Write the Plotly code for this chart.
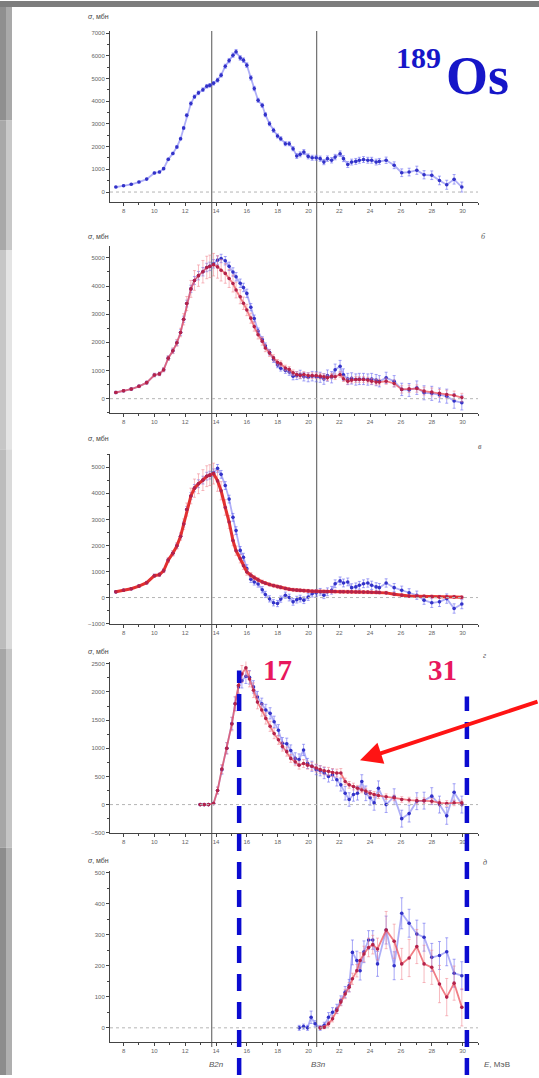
import plotly.graph_objects as go

W, H = 539, 1078


def fx(px):
    return px / W


def fy(py):
    return 1 - py / H


# ---------------- data ----------------
E1 = [7.5, 8.0, 8.5, 9.0, 9.5, 10.0, 10.33, 10.6, 10.9, 11.2, 11.46, 11.7, 11.9, 12.1,
      12.37, 12.6, 12.86, 13.15, 13.4, 13.6, 13.84, 14.1, 14.33, 14.6, 14.85, 15.1, 15.3,
      15.57, 15.78, 16.0, 16.26, 16.48, 16.73, 17.0, 17.2, 17.47, 17.73, 17.99, 18.2, 18.5,
      18.75, 19.0, 19.24, 19.46, 19.7, 19.98, 20.24, 20.5, 20.76, 21.0, 21.23, 21.5, 21.73,
      22.05, 22.27, 22.55, 22.8, 23.07, 23.3, 23.57, 23.85, 24.1, 24.39, 24.6, 25.04, 25.56,
      26.05, 26.53, 27.03, 27.5, 28.0, 28.5, 28.97, 29.45, 29.95]

# panel a: total photoneutron cross section (blue)
S1 = [220, 280, 340, 440, 570, 840, 880, 1030, 1440, 1700, 1985, 2350, 2820, 3380,
      3900, 4200, 4370, 4510, 4660, 4700, 4790, 4930, 5150, 5540, 5790, 6030, 6180,
      5910, 5810, 5590, 5030, 4560, 4040, 3820, 3410, 3010, 2720, 2470, 2350, 2130,
      2130, 1910, 1590, 1660, 1760, 1570, 1510, 1510, 1470, 1320, 1470, 1400, 1540,
      1690, 1470, 1210, 1320, 1350, 1400, 1430, 1400, 1400, 1320, 1350, 1400, 1180,
      850, 880, 960, 760, 740, 510, 320, 560, 220]
ERR1 = [30, 30, 30, 35, 35, 40, 40, 45, 50, 55, 60, 60, 65, 70,
        75, 75, 80, 80, 80, 80, 80, 85, 85, 90, 95, 95, 100, 100, 100, 100, 95, 95,
        90, 90, 90, 90, 90, 90, 90, 90, 90, 90,
        110, 110, 110, 110, 110, 110, 115, 115, 120, 120, 120, 120, 130, 130, 130, 130,
        130, 130, 130, 130, 130, 130, 140, 150,
        170, 170, 180, 180, 190, 190, 200, 210, 220]

# panel b
S2_RED = [220, 280, 340, 440, 570, 840, 880, 1030, 1440, 1700, 1985, 2350, 2820, 3380,
          3900, 4200, 4370, 4510, 4660, 4700, 4760,
          4680, 4560, 4450, 4270, 4090, 3860, 3620, 3390, 3150,
          2860, 2560, 2270, 2040, 1800, 1620, 1450, 1290, 1240, 1090,
          1040, 920, 860, 820, 860, 820, 820, 820, 800, 780,
          740, 800, 780, 860, 710, 620, 660, 680, 680, 680,
          660, 620, 590, 590, 620, 540, 330, 350, 360, 270,
          240, 190, 150, 120, 40]
ERR2_RED = [40, 40, 40, 45, 50, 60, 60, 70, 80, 100, 120, 150, 200, 250,
            300, 350, 380, 400, 400, 400, 400,
            400, 380, 350, 320, 300, 280, 250, 220, 200,
            180, 160, 150, 140, 130, 120, 110, 100, 100, 100,
            100, 100, 100, 100, 100, 100, 100, 100, 100, 100,
            100, 100, 100, 100, 100, 100, 100, 100, 100, 100,
            100, 100, 100, 100, 110, 120, 130, 130, 130, 140,
            140, 140, 150, 150, 150]
S2_BLUE = [220, 280, 340, 440, 570, 840, 880, 1030, 1440, 1700, 1985, 2350, 2820, 3380,
           3900, 4200, 4370, 4510, 4660, 4700, 4790,
           4920, 4980, 4900, 4700, 4500, 4330, 4100, 3950, 3740,
           3250, 2850, 2400, 2100, 1880, 1650, 1390, 1200, 1080, 1000,
           950, 800, 820, 860, 780, 760, 800, 780, 760, 700,
           820, 760, 1030, 1150, 850, 700, 720, 680, 700, 700,
           680, 700, 660, 620, 740, 620, 330, 310, 390, 210,
           190, 130, 90, -80, -140]
ERR2_BLUE = [40, 40, 40, 45, 50, 60, 60, 70, 80, 90, 100, 100, 110, 120,
             130, 140, 150, 150, 150, 150, 150,
             150, 150, 150, 150, 150, 150, 150, 150, 150,
             130, 120, 110, 100, 100, 100, 100, 100, 100, 100,
             120, 130, 140, 150, 150, 160, 170, 180, 180, 190,
             200, 200, 200, 210, 210, 200, 200, 200, 200, 200,
             200, 200, 200, 200, 200, 200, 220, 230, 240, 250,
             250, 250, 250, 260, 260]

# panel c
S3_RED = [220, 280, 340, 440, 570, 840, 880, 1030, 1440, 1700, 1985, 2350, 2820, 3380,
          3900, 4200, 4370, 4510, 4660, 4700, 4760,
          4480, 4100, 3460, 2900, 2190, 1800, 1490, 1220, 980,
          860, 760, 680, 600, 550, 500, 460, 420, 390, 350,
          320, 300, 285, 275, 265, 255, 245, 240, 235, 230,
          230, 230, 230, 225, 225, 220, 220, 215, 215, 210,
          210, 205, 200, 195, 180, 130, 90, 60, 50, 50,
          40, 25, 25, 25, 10]
ERR3_RED = [40, 40, 40, 45, 50, 60, 60, 70, 80, 100, 120, 150, 200, 250,
            300, 350, 380, 400, 400, 400, 400,
            400, 350, 300, 250, 200, 180, 160, 140, 120,
            100, 90, 80, 70, 60, 60, 60, 60, 60, 60,
            60, 60, 60, 60, 60, 60, 60, 60, 60, 60,
            60, 60, 60, 60, 60, 60, 60, 60, 60, 60,
            60, 60, 60, 60, 60, 60, 60, 60, 60, 60,
            60, 60, 60, 60, 60]
S3_BLUE = [220, 280, 340, 440, 570, 840, 880, 1030, 1440, 1700, 1985, 2350, 2820, 3380,
           3900, 4200, 4370, 4510, 4660, 4700, 4790,
           4960, 4730, 4300, 3780, 3080, 2570, 1810, 1550, 1110,
           700, 600, 520, 300, 120, -50, -200, -230, -60, 90,
           0, -165, -80, -40, -100, 20, 150, 180, 220, 90,
           220, 280, 530, 640, 560, 600, 380, 410, 470, 530,
           560, 470, 410, 380, 560, 380, 280, 180, 90, -100,
           -200, -165, -40, -420, -250]
ERR3_BLUE = [40, 40, 40, 45, 50, 60, 60, 70, 80, 90, 100, 100, 110, 120,
             130, 140, 150, 150, 150, 150, 150,
             150, 150, 150, 150, 150, 150, 150, 150, 150,
             120, 120, 120, 120, 120, 120, 120, 120, 120, 120,
             130, 130, 130, 130, 130, 130, 130, 130, 130, 130,
             150, 150, 150, 150, 150, 150, 150, 150, 150, 150,
             160, 160, 160, 160, 160, 160, 160, 160, 160, 160,
             180, 180, 180, 180, 180]

# panel d
E4 = [12.97, 13.23, 13.51, 13.84, 14.10, 14.38, 14.70, 15.03, 15.24, 15.46,
      15.68, 15.94, 16.17, 16.43, 16.69, 16.97, 17.23, 17.51, 17.77, 18.05,
      18.31, 18.59, 18.85, 19.14, 19.39, 19.68, 19.94, 20.22, 20.50, 20.76,
      21.02, 21.30, 21.56, 21.84, 22.10, 22.38, 22.64, 22.92, 23.18, 23.46,
      23.72, 24.00, 24.26, 24.54, 25.04, 25.56, 26.05, 26.53, 27.03, 27.50,
      28.00, 28.50, 28.97, 29.45, 29.95]
S4_RED = [0, 0, 0, 20, 250, 630, 1000, 1430, 1790, 2120,
          2320, 2430, 2230, 2030, 1820, 1680, 1530, 1390, 1260, 1150,
          1030, 940, 820, 760, 700, 730, 700, 680, 650, 620,
          600, 590, 570, 560, 560, 410, 350, 320, 290, 260,
          240, 200, 180, 160, 140, 120, 90, 80, 70, 70,
          60, 30, 20, 30, 30]
ERR4_RED = [5, 5, 5, 20, 60, 80, 100, 120, 130, 140,
            150, 150, 140, 130, 120, 110, 100, 90, 90, 80,
            80, 80, 70, 70, 70, 70, 70, 70, 70, 70,
            70, 70, 70, 70, 80, 60, 60, 60, 50, 50,
            50, 50, 50, 50, 50, 50, 50, 50, 50, 50,
            50, 50, 50, 50, 50]
S4_BLUE = [0, 0, 0, 20, 250, 620, 1000, 1440, 1790, 2090,
           2200, 2280, 2260, 2090, 1910, 1790, 1680, 1620, 1470, 1320,
           1090, 1080, 960, 820, 800, 970, 730, 680, 620, 600,
           560, 500, 530, 440, 350, 200, 90, 180, 200, 410,
           200, 120, 30, 290, 0, 140, -250, -160, 60, 70,
           150, 0, -200, 220, 0]
ERR4_BLUE = [10, 10, 10, 20, 60, 80, 100, 110, 120, 130,
             130, 130, 120, 110, 100, 100, 100, 100, 100, 100,
             100, 100, 100, 100, 100, 100, 90, 90, 90, 90,
             100, 100, 100, 110, 110, 120, 120, 120, 120, 120,
             130, 130, 130, 130, 140, 140, 150, 150, 150, 150,
             150, 150, 150, 150, 150]

# panel e
E5_BLUE = [19.40, 19.68, 19.94, 20.17, 20.43, 20.76, 21.02, 21.30, 21.56, 21.84,
           22.10, 22.38, 22.64, 22.85, 23.14, 23.35, 23.60, 23.90, 24.17, 24.48,
           25.04, 25.56, 26.05, 26.53, 27.03, 27.50, 28.00, 28.50, 28.97, 29.45, 29.95]
S5_BLUE = [0, 4, 0, 34, 13, 0, 8, 34, 50, 61,
           88, 115, 136, 243, 217, 184, 245, 283, 283, 206,
           315, 200, 369, 337, 302, 292, 227, 233, 245, 176, 168]
ERR5_BLUE = [8, 8, 8, 20, 10, 8, 10, 15, 15, 15,
             15, 18, 20, 40, 30, 30, 35, 30, 30, 40,
             45, 45, 50, 45, 45, 45, 45, 45, 45, 45, 45]
E5_RED = [20.76, 21.02, 21.30, 21.56, 21.84, 22.10, 22.38, 22.64, 22.85, 23.14,
          23.35, 23.60, 23.90, 24.17, 24.48, 25.04, 25.56, 26.05, 26.53, 27.03,
          27.50, 28.00, 28.50, 28.97, 29.45, 29.95]
S5_RED = [0, 2, 13, 29, 56, 83, 109, 131, 158, 184,
          217, 238, 259, 268, 254, 315, 279, 206, 225, 262,
          206, 195, 141, 99, 144, 66]
ERR5_RED = [5, 5, 8, 10, 10, 12, 15, 15, 18, 20,
            25, 25, 30, 30, 35, 60, 55, 50, 60, 55,
            60, 55, 60, 60, 55, 60]

X_TICKS = [8, 10, 12, 14, 16, 18, 20, 22, 24, 26, 28, 30]
B2N, B3N = 13.72, 20.53
CUT_LO, CUT_HI = 15.5, 30.28

# ---------------- styling ----------------
BLUE_MK = '#3232c8'
BLUE_LN = 'rgba(95,95,240,0.5)'
BLUE_ERR = 'rgba(95,95,240,0.55)'
RED_MK = '#b4224a'
RED_LN = 'rgba(235,70,80,0.7)'
RED_ERR = 'rgba(240,130,140,0.55)'
AX = '#444444'
TICKFONT = dict(family='Liberation Sans, Arial', size=6, color='#666666')

X_RANGE = [7.12, 31.0]
X_DOMAIN = [fx(110), fx(478)]

PANELS = [
    dict(top=30, bottom=202, rng=[-450, 7100], dtick=1000, minor=500),
    dict(top=246, bottom=413.3, rng=[-500, 5420], dtick=1000, minor=500),
    dict(top=455, bottom=625, rng=[-1003, 5500], dtick=1000, minor=500),
    dict(top=663, bottom=835, rng=[-503, 2540], dtick=500, minor=250),
    dict(top=873, bottom=1045, rng=[-46, 506], dtick=100, minor=50),
]

fig = go.Figure()


def axname(i, kind):
    return kind if i == 0 else f'{kind}{i + 1}'


def add_series(i, x, y, err, mk, ln, ec, lw=1.8, msize=3.6):
    fig.add_trace(go.Scatter(
        x=x, y=y, mode='lines+markers',
        error_y=dict(type='data', array=err, color=ec, thickness=1, width=1.5),
        marker=dict(size=msize, color=mk),
        line=dict(color=ln, width=lw),
        xaxis=axname(i, 'x'), yaxis=axname(i, 'y'),
        showlegend=False, hoverinfo='skip'))


add_series(0, E1, S1, ERR1, BLUE_MK, BLUE_LN, BLUE_ERR)
add_series(1, E1, S2_BLUE, ERR2_BLUE, BLUE_MK, BLUE_LN, BLUE_ERR)
add_series(1, E1, S2_RED, ERR2_RED, RED_MK, RED_LN, RED_ERR)
add_series(2, E1, S3_BLUE, ERR3_BLUE, BLUE_MK, BLUE_LN, BLUE_ERR)
add_series(2, E1, S3_RED, ERR3_RED, RED_MK, '#e23030', RED_ERR, lw=3)
add_series(3, E4, S4_BLUE, ERR4_BLUE, BLUE_MK, BLUE_LN, BLUE_ERR)
add_series(3, E4, S4_RED, ERR4_RED, RED_MK, RED_LN, RED_ERR)
add_series(4, E5_BLUE, S5_BLUE, ERR5_BLUE, BLUE_MK, BLUE_LN, BLUE_ERR)
add_series(4, E5_RED, S5_RED, ERR5_RED, RED_MK, RED_LN, RED_ERR)

layout = dict(
    width=W, height=H, autosize=False,
    margin=dict(l=0, r=0, t=0, b=0, pad=0),
    paper_bgcolor='white', plot_bgcolor='white',
    showlegend=False,
)

shapes = []
annotations = []

for i, p in enumerate(PANELS):
    xa = 'xaxis' if i == 0 else f'xaxis{i + 1}'
    ya = 'yaxis' if i == 0 else f'yaxis{i + 1}'
    layout[xa] = dict(
        domain=X_DOMAIN, range=X_RANGE, anchor=axname(i, 'y'),
        showgrid=False, zeroline=False, showline=True, linecolor=AX, linewidth=1,
        ticks='outside', ticklen=3, tickcolor=AX, tickwidth=1,
        tickvals=X_TICKS, ticktext=[str(v) for v in X_TICKS],
        minor=dict(dtick=1, tick0=7, ticks='outside', ticklen=2, tickcolor=AX),
        tickfont=TICKFONT, fixedrange=True,
    )
    layout[ya] = dict(
        domain=[fy(p['bottom']), fy(p['top'])], range=p['rng'], anchor=axname(i, 'x'),
        showgrid=False, zeroline=False, showline=True, linecolor=AX, linewidth=1,
        ticks='outside', ticklen=3, tickcolor=AX, tickwidth=1,
        tick0=0, dtick=p['dtick'],
        minor=dict(dtick=p['minor'], ticks='outside', ticklen=2, tickcolor=AX),
        tickfont=TICKFONT, fixedrange=True,
    )
    # dotted zero line
    shapes.append(dict(type='line', xref=axname(i, 'x'), yref=axname(i, 'y'),
                       x0=X_RANGE[0], x1=X_RANGE[1], y0=0, y1=0,
                       line=dict(color='#b5b5b5', width=1, dash='dot')))

# threshold lines B2n, B3n
for xv in (B2N, B3N):
    shapes.append(dict(type='line', xref='x', yref='paper', x0=xv, x1=xv,
                       y0=fy(1050), y1=fy(30), line=dict(color='#707070', width=1.2),
                       layer='below'))

# blue dashed cut lines
shapes.append(dict(type='line', xref='x', yref='paper', x0=CUT_LO, x1=CUT_LO,
                   y0=fy(1078), y1=fy(672),
                   line=dict(color='#0b0bd0', width=4.5, dash='17px,11px')))
shapes.append(dict(type='line', xref='x', yref='paper', x0=CUT_HI, x1=CUT_HI,
                   y0=fy(1078), y1=fy(698),
                   line=dict(color='#0b0bd0', width=4.5, dash='17px,11px')))

# gray slide frame
shapes.append(dict(type='rect', xref='paper', yref='paper', x0=0, x1=1, y0=fy(6), y1=1,
                   fillcolor='#7d7d7d', line=dict(width=0)))
FRAME_ROWS = [(6, 120, '#8f8f8f', '#a9a9a9'), (120, 250, '#a8a8a8', '#c8c8c8'),
              (250, 450, '#c6c6c6', '#e4e4e4'), (450, 650, '#bcbcbc', '#dadada'),
              (650, 850, '#a6a6a6', '#c4c4c4'), (850, 1078, '#8c8c8c', '#afafaf')]
for y0, y1, c_left, c_right in FRAME_ROWS:
    shapes.append(dict(type='rect', xref='paper', yref='paper', x0=0, x1=fx(6),
                       y0=fy(y1), y1=fy(y0), fillcolor=c_left, line=dict(width=0)))
    shapes.append(dict(type='rect', xref='paper', yref='paper', x0=fx(6), x1=fx(12),
                       y0=fy(y1), y1=fy(y0), fillcolor=c_right, line=dict(width=0)))

# axis titles "σ, мбн"
for yc in (16, 236, 439, 653, 863):
    annotations.append(dict(text='<i>σ</i>, мбн', x=fx(86), y=fy(yc), xref='paper', yref='paper',
                            xanchor='left', yanchor='middle', showarrow=False,
                            font=dict(family='Liberation Sans, Arial', size=7, color='#444444')))

# panel letters
for letter, xc, yc in (('б', 483, 236), ('в', 480, 447), ('г', 484, 657), ('д', 485, 865)):
    annotations.append(dict(text=f'<i>{letter}</i>', x=fx(xc), y=fy(yc), xref='paper', yref='paper',
                            xanchor='center', yanchor='middle', showarrow=False,
                            font=dict(family='Liberation Serif', size=8, color='#555555')))

# bottom labels
for txt, xc in (('<i>B2n</i>', 216), ('<i>B3n</i>', 318), ('<i>E</i>, МэВ', 497)):
    annotations.append(dict(text=txt, x=fx(xc), y=fy(1067), xref='paper', yref='paper',
                            xanchor='center', yanchor='middle', showarrow=False,
                            font=dict(family='Liberation Sans, Arial', size=8, color='#555555')))

# nucleus label
annotations.append(dict(text='<b>189</b>', x=fx(443), y=fy(57), xref='paper', yref='paper',
                        xanchor='right', yanchor='middle', showarrow=False,
                        font=dict(family='Liberation Serif', size=30, color='#1616c8')))
annotations.append(dict(text='<b>Os</b>', x=fx(444), y=fy(75), xref='paper', yref='paper',
                        xanchor='left', yanchor='middle', showarrow=False,
                        font=dict(family='Liberation Serif', size=54, color='#1616c8')))

# cut energies
for txt, xc in (('<b>17</b>', 277.5), ('<b>31</b>', 442)):
    annotations.append(dict(text=txt, x=fx(xc), y=fy(671), xref='paper', yref='paper',
                            xanchor='center', yanchor='middle', showarrow=False,
                            font=dict(family='Liberation Serif', size=29, color='#e8175d')))

# red arrow
annotations.append(dict(text='', x=fx(360), y=fy(762), xref='paper', yref='paper',
                        ax=539 - 360, ay=703 - 762, axref='pixel', ayref='pixel',
                        showarrow=True, arrowhead=2, arrowsize=1.1, arrowwidth=4,
                        arrowcolor='#ff1414', standoff=0))

layout['shapes'] = shapes
layout['annotations'] = annotations
fig.update_layout(**layout)

fig.write_html('out.html')
